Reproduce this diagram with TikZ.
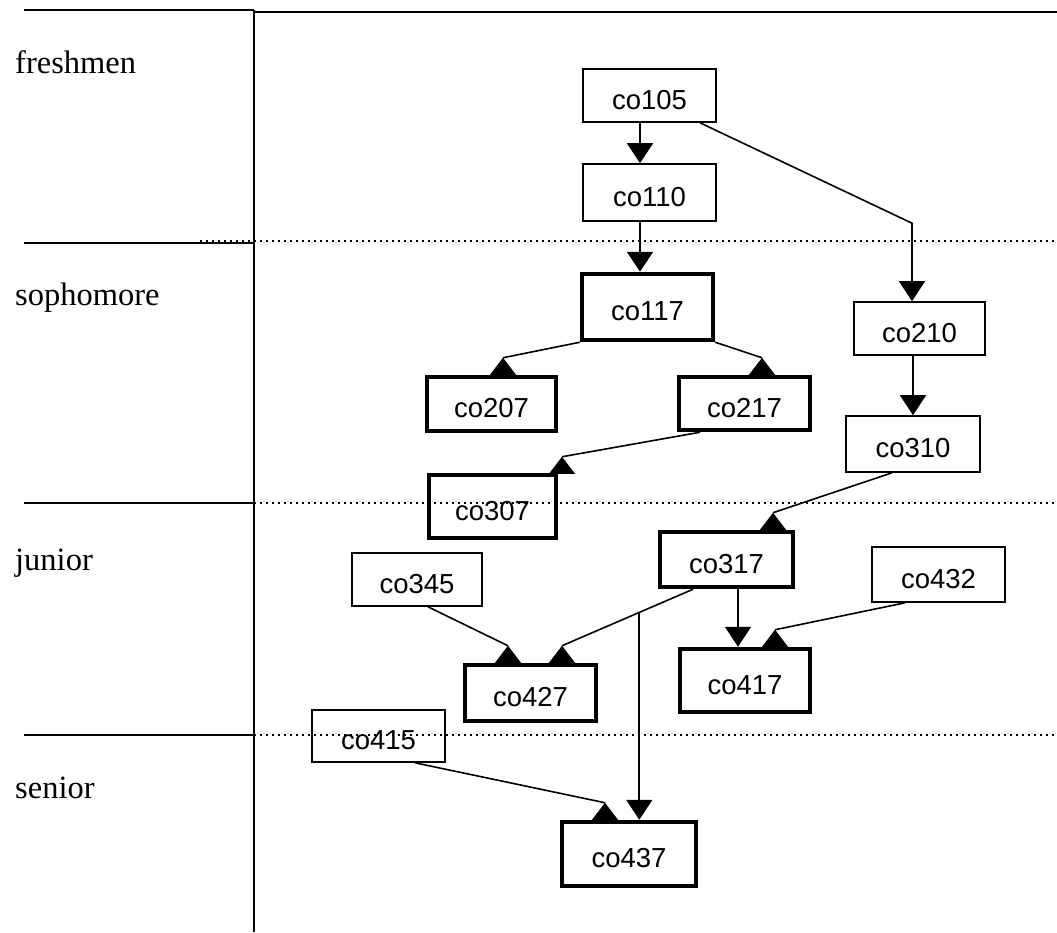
\documentclass[tikz,border=0pt]{standalone}
\usepackage{fontspec}
\setmainfont{Liberation Serif}
\newfontfamily\boxfont{Liberation Sans}
\usetikzlibrary{arrows.meta,calc}
\newcommand\uptri[1]{\fill (#1) -- ++(13,17) -- ++(-26,0) -- cycle;}
\begin{document}
\begin{tikzpicture}[x=1pt,y=-1pt,
  box/.style={draw, line width=1.6pt, inner sep=0pt, text height=27pt, text depth=0pt,
              font=\boxfont\fontsize{27.5}{30}\selectfont},
  bold/.style={box, line width=4.5pt},
  lane/.style={anchor=base west, inner sep=0pt, font=\fontsize{32.5}{36}\selectfont},
  edge/.style={line width=1.6pt},
  down/.style={edge, -{Triangle[width=26pt,length=20pt]}},
  solidrule/.style={line width=2.2pt},
  dotrule/.style={line width=2pt, dash pattern=on 2pt off 4pt},
]
\useasboundingbox (0,0) rectangle (1057,932);

% frame
\draw[solidrule] (24,10) -- (254,10);
\draw[solidrule] (254,12) -- (1057,12);
\draw[solidrule] (254,10) -- (254,932);
\draw[solidrule] (24,243) -- (254,243);
\draw[dotrule] (200,241) -- (1057,241);
\draw[solidrule] (24,503) -- (254,503);
\draw[dotrule] (254,503) -- (1057,503);
\draw[solidrule] (24,735) -- (254,735);
\draw[dotrule] (254,735) -- (1057,735);

% lane labels
\node[lane] (fr) at (15,73) {freshmen};
\node[lane] (so) at (15,305) {sophomore};
\node[lane] (ju) at (15,570) {junior};
\node[lane] (se) at (15,798) {senior};

% courses
\node[box, minimum width=133pt, minimum height=53pt] (co105) at (649.5,95.5) {co105};
\node[box, minimum width=133pt, minimum height=57pt] (co110) at (649.5,192.5) {co110};
\node[bold, minimum width=131pt, minimum height=66pt] (co117) at (647.5,307) {co117};
\node[bold, minimum width=129pt, minimum height=54pt] (co207) at (491.5,404) {co207};
\node[bold, minimum width=131pt, minimum height=53pt] (co217) at (744.5,403.5) {co217};
\node[box, minimum width=131pt, minimum height=53pt] (co210) at (919.5,328.5) {co210};
\node[box, minimum width=134pt, minimum height=56pt] (co310) at (913,444) {co310};
\node[bold, minimum width=127pt, minimum height=63pt] (co307) at (492.5,506.5) {co307};
\node[bold, minimum width=133pt, minimum height=55pt] (co317) at (726.5,559.5) {co317};
\node[box, minimum width=130pt, minimum height=53pt] (co345) at (417,579.5) {co345};
\node[box, minimum width=133pt, minimum height=55pt] (co432) at (938.5,574.5) {co432};
\node[bold, minimum width=131pt, minimum height=56pt] (co427) at (530.5,693) {co427};
\node[bold, minimum width=130pt, minimum height=63pt] (co417) at (745,680.5) {co417};
\node[box, minimum width=133pt, minimum height=52pt] (co415) at (378.5,736) {co415};
\node[bold, minimum width=134pt, minimum height=64pt] (co437) at (629,854) {co437};

% vertical connectors
\draw[down] ($(co105.south)+(-9.5,0)$) -- ($(co110.north)+(-9.5,0)$);
\draw[down] ($(co110.south)+(-9.5,0)$) -- ($(co117.north)+(-7.5,0)$);
\draw[down] ($(co105.south)+(50.5,0)$) -- ($(co210.north)+(-7.5,-78)$) -- ($(co210.north)+(-7.5,0)$);
\draw[down] ($(co210.south)+(-6.5,0)$) -- ($(co310.north)+(0,0)$);
\draw[down] ($(co317.south)+(11.5,0)$) -- ($(co417.north)+(-7,0)$);

% apex points of the upright arrowheads
\coordinate (a207) at ($(co207.north)+(11.5,-17)$);
\coordinate (a217) at ($(co217.north)+(17.5,-17)$);
\coordinate (a307) at ($(co307.north)+(69.5,-16)$);
\coordinate (a317) at ($(co317.north)+(46.5,-17)$);
\coordinate (a427l) at ($(co427.north)+(-22.5,-17)$);
\coordinate (a427r) at ($(co427.north)+(31.5,-17)$);
\coordinate (a417) at ($(co417.north)+(30,-17)$);
\coordinate (a437) at ($(co437.north)+(-24,-17)$);

% diagonal connectors
\draw[edge] (co117.south west) -- (a207); \uptri{a207}
\draw[edge] (co117.south east) -- (a217); \uptri{a217}
\draw[edge] ($(co217.south)+(-44.5,0)$) -- (a307); \uptri{a307}
\draw[edge] ($(co310.south)+(-21,0)$) -- (a317); \uptri{a317}
\draw[edge] ($(co345.south)+(11,0)$) -- (a427l); \uptri{a427l}
\coordinate (s317) at ($(co317.south)+(-33.5,0)$);
\draw[edge] (s317) -- (a427r); \uptri{a427r}
\draw[edge] ($(co432.south)+(-33.5,0)$) -- (a417); \uptri{a417}
\draw[edge] ($(co415.south)+(36.5,0)$) -- (a437); \uptri{a437}

% co317 -> co437 branches off the co317 -> co427 line
\coordinate (br) at ($(s317)!0.41!(a427r)$);
\draw[down] (br) -- (br |- co437.north);
\end{tikzpicture}
\end{document}
